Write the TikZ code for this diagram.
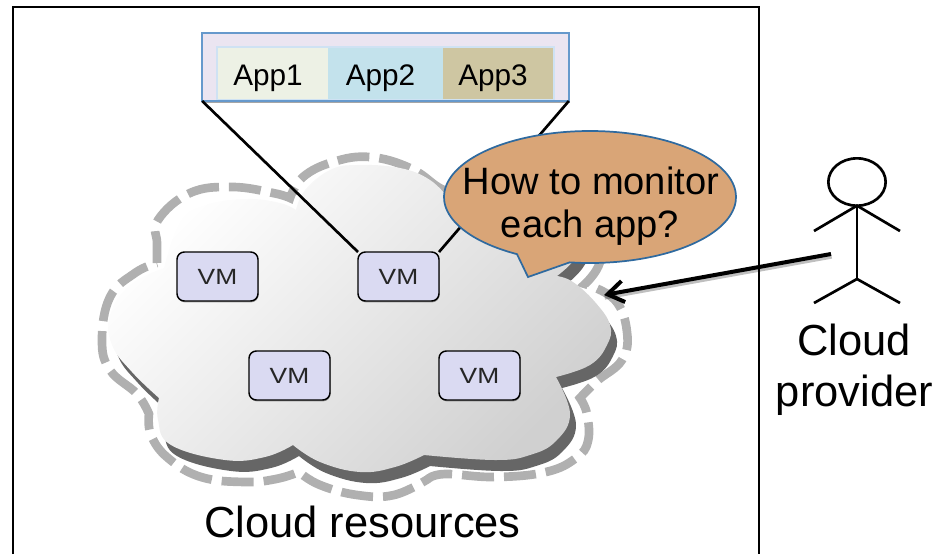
\documentclass[tikz,border=0pt]{standalone}
\usepackage{fontspec}
\usepackage{graphicx}
\setmainfont{Liberation Sans}
\usetikzlibrary{arrows.meta,shadows,shapes.geometric}
\definecolor{dashgray}{HTML}{B0B0B0}
\definecolor{cloudshadow}{HTML}{666666}
\definecolor{cloudend}{HTML}{D0D0D0}
\definecolor{vmfill}{HTML}{DADAF2}
\definecolor{calloutfill}{HTML}{D9A577}
\definecolor{calloutline}{HTML}{2F6A9F}
\definecolor{zoomfill}{HTML}{EBE5F1}
\definecolor{zoomline}{HTML}{6699CC}
\definecolor{bandfill}{HTML}{CFE2F3}
\definecolor{appa}{HTML}{EDF1E5}
\definecolor{appb}{HTML}{C3E2EC}
\definecolor{appc}{HTML}{CEC6A2}
\tikzset{
  cloudbodypath/.style={insert path={
    plot[smooth,tension=.7] coordinates {(164,268)(130,285)(110,315)(112,345)(132,372)(159,398)}
    -- plot[smooth,tension=.7] coordinates {(159,398)(158,420)(171,445)(225,460)(265,457)(293,445)}
    -- plot[smooth,tension=.7] coordinates {(293,445)(320,462)(360,472)(395,467)(424,455)}
    -- plot[smooth,tension=.7] coordinates {(424,455)(495,460)(530,455)(556,441)(570,414)(556,377)}
    -- plot[smooth,tension=.7] coordinates {(556,377)(590,365)(607,345)(610,325)(595,302)(573,282)(557,276)}
    -- plot[smooth,tension=.7] coordinates {(557,276)(578,255)(588,225)(560,190)(500,185)(450,200)}
    -- plot[smooth,tension=.7] coordinates {(450,200)(430,180)(400,168)(357,165)(330,170)(305,190)(296,210)}
    -- plot[smooth,tension=.7] coordinates {(296,210)(280,203)(247,199)(205,205)(180,222)(164,268)}
    -- cycle}},
  vmbox/.style={draw=black,line width=1.1pt,fill=vmfill,rounded corners=5.5pt,
    minimum width=60.75pt,minimum height=36.75pt,inner sep=0pt,outer sep=0pt,
    font=\fontsize{16.5}{18}\selectfont,text=black!85,
    drop shadow={shadow xshift=0.4pt,shadow yshift=-1pt,opacity=.35,fill=black}},
  appcell/.style={minimum height=37.8pt,inner sep=0pt,outer sep=0pt,
    text height=22pt,text depth=4.4pt,
    font=\fontsize{22.3}{24}\selectfont},
  bigtext/.style={inner sep=0pt,font=\fontsize{32.6}{36}\selectfont},
  callouttext/.style={inner sep=0pt,font=\fontsize{28.6}{32}\selectfont},
  figline/.style={black,line width=2pt},
  zoomlink/.style={black,line width=2pt}
}
\begin{document}
\begin{tikzpicture}[x=.75pt,y=-.75pt]
\useasboundingbox (0,0) rectangle (935,554);
% frame
\draw[black,line width=1.5pt] (13,554) -- (13,7) -- (759,7) -- (759,554);
% dashed outline
\draw[dashgray,line width=6.5pt,dash pattern=on 24pt off 7.5pt]
  plot[smooth,tension=.7] coordinates {(157,263)(157,243)(158,220)(190,193)(232,187)(273,193)(290,198)}
  -- plot[smooth,tension=.7] coordinates {(290,198)(303,177)(333,162)(370,157)(410,168)(438,187)(450,192)}
  -- plot[smooth,tension=.7] coordinates {(450,192)(500,175)(560,178)(602,225)(600,262)(585,284)}
  -- plot[smooth,tension=.7] coordinates {(585,284)(615,300)(627,332)(622,360)(597,381)(580,398)}
  -- plot[smooth,tension=.7] coordinates {(580,398)(587,414)(588,441)(576,458)(546,472)(495,477)(445,474)(428,479)}
  -- plot[smooth,tension=.7] coordinates {(428,479)(394,495)(357,495)(320,485)(299,472)}
  -- plot[smooth,tension=.7] coordinates {(299,472)(276,479)(245,482)(201,477)(168,458)(151,435)(149,414)}
  -- plot[smooth,tension=.7] coordinates {(149,414)(137,394)(110,370)(102,340)(110,297)(135,273)(157,263)};
% shadow and body
\begin{scope}[shift={(6,11)}]
\fill[cloudshadow,cloudbodypath];
\end{scope}
\shade[cloudbodypath,top color=white,bottom color=cloudend,shading angle=45];
% VMs
\node[vmbox] (vma) at (217.5,276.5) {\scalebox{1.2}[1]{VM}};
\node[vmbox] (vmb) at (398.5,276.5) {\scalebox{1.2}[1]{VM}};
\node[vmbox] (vmc) at (289.5,375.5) {\scalebox{1.2}[1]{VM}};
\node[vmbox] (vmd) at (479.5,375.5) {\scalebox{1.2}[1]{VM}};
% zoom box
\node[draw=zoomline,line width=1.5pt,fill=zoomfill,minimum width=275pt,minimum height=51pt,
  inner sep=0pt,outer sep=0pt,
  drop shadow={shadow xshift=0.5pt,shadow yshift=-1.5pt,opacity=.35,fill=black}] (zoom) at (385.5,67) {};
\node[fill=bandfill,minimum width=254pt,minimum height=40.5pt,inner sep=0pt,outer sep=0pt] (band) at (385.5,73) {};
\node[appcell,fill=appa,minimum width=82.5pt] (app1) at (273,73.3) {App1\rule{7.5pt}{0pt}};
\node[appcell,fill=appb,minimum width=86.25pt] (app2) at (385.5,73.3) {App2\rule{7.5pt}{0pt}};
\node[appcell,fill=appc,minimum width=82.5pt] (app3) at (498,73.3) {App3\rule{7.5pt}{0pt}};
% zoom links
\draw[zoomlink] (zoom.south west) -- (vmb.north west);
\draw[zoomlink] (zoom.south east) -- (vmb.north east);
% callout
\filldraw[draw=calloutline,line width=1.3pt,fill=calloutfill,line join=miter]
  (528,277) -- plot[smooth,domain=120:458,samples=90] ({590+146*cos(\x)},{197+66*sin(\x)}) -- cycle;
\node[callouttext] (qa) at (591,181) {How to monitor};
\node[callouttext] (qb) at (590,228) {each app?};
% person
\node[draw=black,line width=2pt,ellipse,minimum width=43pt,minimum height=35.5pt,inner sep=0pt,outer sep=0pt] (head) at (857,182) {};
\coordinate (hip) at (857,279);
\coordinate (handl) at (814,231);
\coordinate (handr) at (900,231);
\coordinate (footl) at (814,303);
\coordinate (footr) at (900,303);
\draw[figline] (head.south) -- (hip);
\draw[figline] (handl) -- (head.south) -- (handr);
\draw[figline] (footl) -- (hip) -- (footr);
% arrow
\coordinate (armstart) at (831,254);
\coordinate (armend) at (604,295);
\draw[black,opacity=.25,line width=3pt,transform canvas={xshift=.5pt,yshift=-2pt}] (armstart) -- (armend);
\draw[black,line width=3pt,-{Straight Barb[length=12pt,width=16pt,line width=3pt]}] (armstart) -- (armend);
% labels
\node[bigtext] (cloudlabel) at (362.5,522) {Cloud resources};
\node[bigtext] (provone) at (854,340) {Cloud};
\node[bigtext] (provtwo) at (854.5,395) {provider};
\end{tikzpicture}
\end{document}
